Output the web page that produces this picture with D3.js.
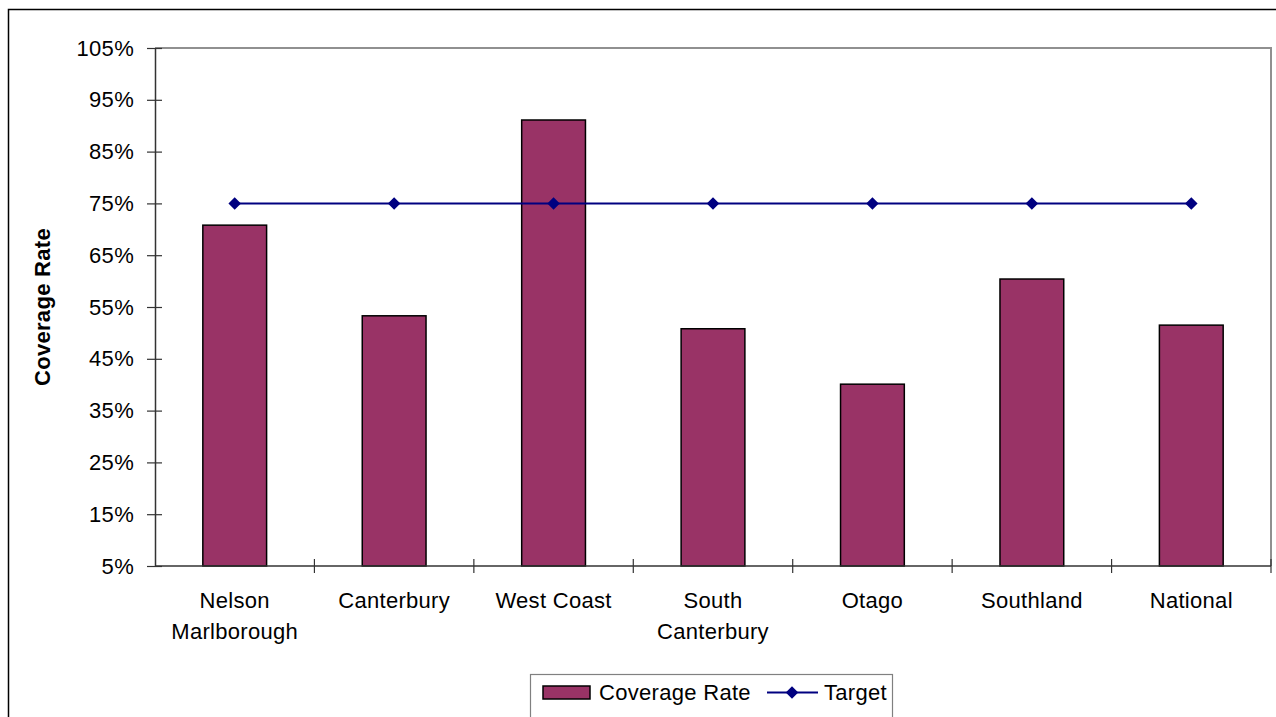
<!DOCTYPE html>
<html>
<head>
<meta charset="utf-8">
<script src="https://cdn.jsdelivr.net/npm/d3@7"></script>
<style>
  body { margin: 0; background: #fff; }
  svg { display: block; font-family: "Liberation Sans", Arial, sans-serif; }
  text { letter-spacing: 0.3px; }
</style>
</head>
<body>
<svg id="chart"></svg>
<script>
// datos
const regiones = [["Nelson", "Marlborough"], ["Canterbury"], ["West Coast"], ["South", "Canterbury"], ["Otago"], ["Southland"], ["National"]];
const cobertura = [70.8, 53.3, 91.1, 50.8, 40.1, 60.4, 51.5];
const meta = [75, 75, 75, 75, 75, 75, 75];
const ticksY = [5, 15, 25, 35, 45, 55, 65, 75, 85, 95, 105];

const WIDTH = 1276;
const HEIGHT = 717;
const margins = { top: 48, bottom: 151, left: 155, right: 5 };
const FUENTE = 22;

const svg = d3.select("#chart").attr("width", WIDTH).attr("height", HEIGHT);

// borde exterior del grafico (se sale por la derecha y abajo)
svg.append("rect")
  .attr("x", 8.5).attr("y", 9.5)
  .attr("width", WIDTH).attr("height", HEIGHT)
  .attr("fill", "none").attr("stroke", "#000").attr("stroke-width", 1.5);

const x0 = margins.left, x1 = WIDTH - margins.right;
const y0 = HEIGHT - margins.bottom, y1 = margins.top;

const nombres = regiones.map(d => d.join(" "));
const escalaX = d3.scaleBand().domain(nombres).range([x0, x1]).paddingInner(0.6).paddingOuter(0.3);
const escalaBanda = d3.scaleBand().domain(nombres).range([x0, x1]);
const escalaY = d3.scaleLinear().domain([5, 105]).range([y0, y1]);

// borde del area de dibujo
svg.append("path")
  .attr("d", `M${x0},${y1}H${x1}V${y0}`)
  .attr("fill", "none").attr("stroke", "#909090").attr("stroke-width", 2);

// eje Y (ticks que cruzan el eje)
const ejeY = svg.append("g")
  .attr("transform", `translate(${x0},0)`)
  .call(d3.axisLeft(escalaY).tickValues(ticksY).tickFormat(d => d + "%").tickSize(8).tickSizeOuter(0));
ejeY.select(".domain").attr("stroke", "#333").attr("stroke-width", 1.5);
ejeY.selectAll(".tick line").attr("stroke", "#333").attr("stroke-width", 1.2).attr("x2", -8).attr("x1", 7);
ejeY.selectAll("text")
  .attr("font-size", FUENTE).attr("font-family", "Liberation Sans, Arial, sans-serif")
  .attr("fill", "#000").attr("x", -21);

// titulo del eje Y
svg.append("text")
  .attr("transform", `translate(50,${(y0 + y1) / 2}) rotate(-90)`)
  .attr("text-anchor", "middle")
  .attr("font-size", FUENTE).attr("font-weight", "bold")
  .attr("letter-spacing", 0.6)
  .text("Coverage Rate");

// barras
svg.append("g").selectAll("rect")
  .data(cobertura)
  .join("rect")
  .attr("x", (d, i) => escalaX(nombres[i]))
  .attr("y", d => escalaY(d))
  .attr("width", escalaX.bandwidth())
  .attr("height", d => y0 - escalaY(d))
  .attr("fill", "#993366")
  .attr("stroke", "#000").attr("stroke-width", 1.5);

// eje X: linea y ticks entre categorias
svg.append("line")
  .attr("x1", x0).attr("x2", x1).attr("y1", y0).attr("y2", y0)
  .attr("stroke", "#333").attr("stroke-width", 1.5);
const limites = nombres.map(n => escalaBanda(n)).concat([x1]);
svg.append("g").selectAll("line")
  .data(limites.slice(1))
  .join("line")
  .attr("x1", d => d).attr("x2", d => d)
  .attr("y1", y0 - 7).attr("y2", y0 + 7)
  .attr("stroke", "#333").attr("stroke-width", 1.2);

// etiquetas de categorias
const etiquetas = svg.append("g").selectAll("text")
  .data(regiones)
  .join("text")
  .attr("text-anchor", "middle")
  .attr("font-size", FUENTE)
  .attr("x", (d, i) => escalaBanda(nombres[i]) + escalaBanda.bandwidth() / 2)
  .attr("y", 608);
etiquetas.selectAll("tspan")
  .data(d => d)
  .join("tspan")
  .attr("x", function () { return d3.select(this.parentNode).attr("x"); })
  .attr("dy", (d, i) => i === 0 ? 0 : 31)
  .text(d => d);

// linea de meta
const centro = i => escalaBanda(nombres[i]) + escalaBanda.bandwidth() / 2;
svg.append("path")
  .datum(meta)
  .attr("d", d3.line().x((d, i) => centro(i)).y(d => escalaY(d)))
  .attr("fill", "none").attr("stroke", "#000080").attr("stroke-width", 2);
svg.append("g").selectAll("path")
  .data(meta)
  .join("path")
  .attr("d", d3.symbol().type(d3.symbolDiamond2).size(100))
  .attr("transform", (d, i) => `translate(${centro(i)},${escalaY(d)})`)
  .attr("fill", "#000080");

// leyenda
const leyenda = svg.append("g");
leyenda.append("rect")
  .attr("x", 530.5).attr("y", 674.5).attr("width", 362).attr("height", 60)
  .attr("fill", "#fff").attr("stroke", "#808080").attr("stroke-width", 1.2);
leyenda.append("rect")
  .attr("x", 543).attr("y", 686).attr("width", 47).attr("height", 13)
  .attr("fill", "#993366").attr("stroke", "#000").attr("stroke-width", 1.5);
leyenda.append("text").attr("x", 599).attr("y", 700).attr("font-size", FUENTE).text("Coverage Rate");
leyenda.append("line")
  .attr("x1", 767).attr("x2", 818).attr("y1", 692.5).attr("y2", 692.5)
  .attr("stroke", "#000080").attr("stroke-width", 2);
leyenda.append("path")
  .attr("d", d3.symbol().type(d3.symbolDiamond2).size(100))
  .attr("transform", "translate(792,692.5)")
  .attr("fill", "#000080");
leyenda.append("text").attr("x", 824).attr("y", 700).attr("font-size", FUENTE).text("Target");
</script>
</body>
</html>
